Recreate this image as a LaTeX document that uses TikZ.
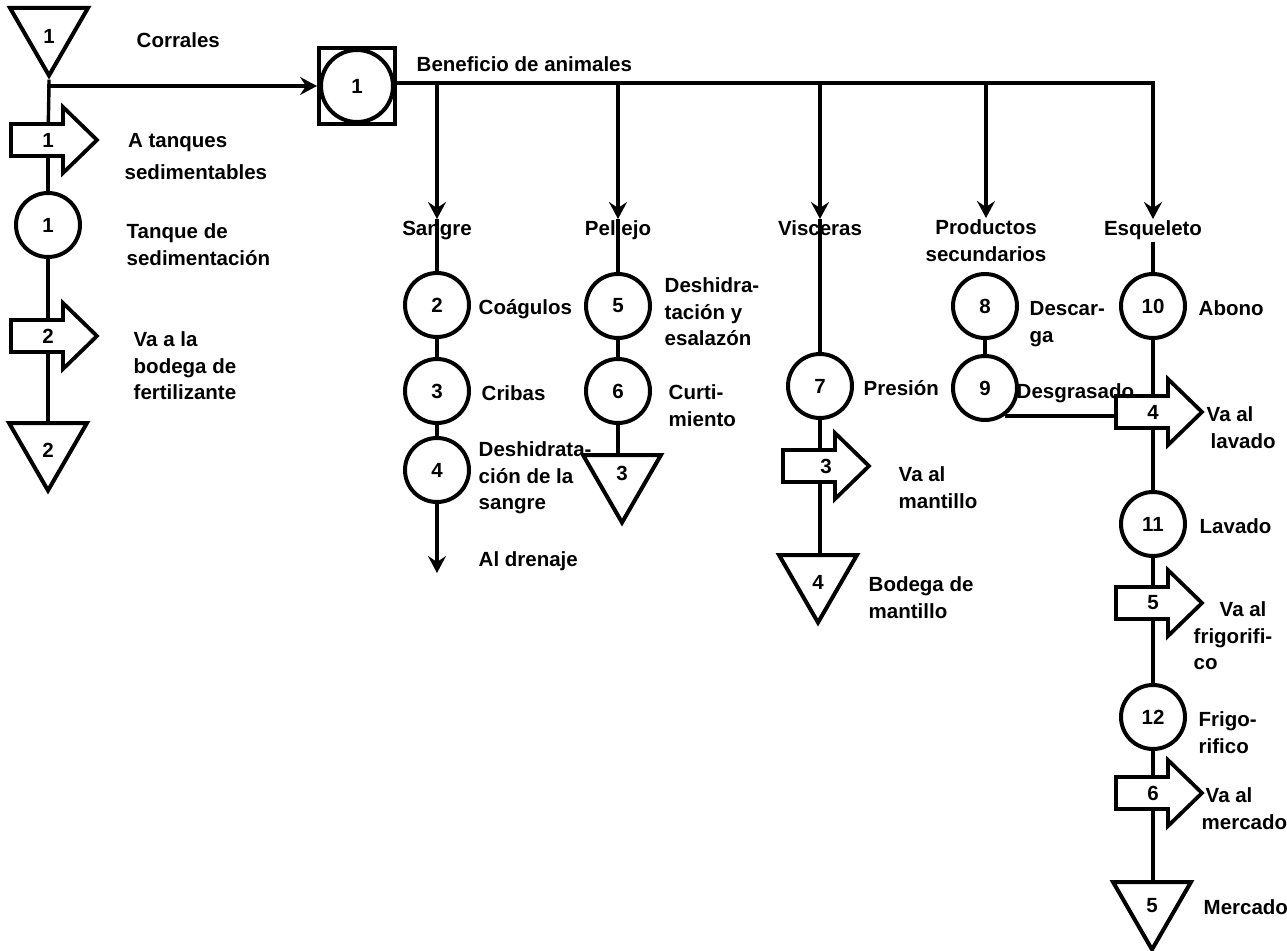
\documentclass[tikz,border=0pt]{standalone}
\usepackage{fontspec}
\setmainfont{Liberation Sans}
\usetikzlibrary{arrows.meta,shapes.geometric}
\newcommand\lblfont{\fontsize{20.5}{26.5}\selectfont\bfseries}
\newcommand\flowarr[3]{%
  \node[fnode] (#1) at #2 {#3};
  \coordinate (#1w) at ([xshift=-37pt]#1.center);
  \draw[flowbox] (#1.center) ++(-37,-16) -- ++(52,0) -- ++(0,-17) -- ++(34,33) -- ++(-34,33) -- ++(0,-17) -- ++(-52,0) -- cycle;
}
\newcommand\shiftedtxt[2]{\raisebox{#1}[0pt][0pt]{#2}}
\begin{document}
\begin{tikzpicture}[x=1pt,y=-1pt,line width=3.4pt,
  lab/.style={font=\lblfont, inner sep=0pt, align=left, anchor=north west},
  clab/.style={font=\lblfont, inner sep=0pt, align=center, anchor=north},
  op/.style={circle, draw, line width=4pt, minimum size=64pt, inner sep=0pt, font=\lblfont},
  store/.style={regular polygon, regular polygon sides=3, shape border rotate=180, draw, line width=4pt, minimum size=90pt, inner sep=0pt, font=\lblfont},
  fnode/.style={inner sep=0pt, minimum height=32pt, font=\lblfont},
  flowbox/.style={draw, line width=3.8pt, line join=miter},
  arr/.style={-{Stealth[length=17pt,width=18pt,inset=6pt]}}
]
\useasboundingbox (0,0) rectangle (1287,950);

% ---------- left column ----------
\node[store] (t1) at (49,30.5) {\shiftedtxt{-13pt}{1}};
\node[lab] (corr) at (135,31) {Corrales};
\flowarr{a1}{(48,140)}{1}
\node[lab] (la1) at (123,132) {\,A tanques\\[5pt]sedimentables};
\node[op] (c1) at (48,225) {1};
\node[lab] (lc1) at (125,222) {Tanque de\\sedimentación};
\flowarr{a2}{(48,336)}{2}
\node[lab] (la2) at (132,330) {Va a la\\bodega de\\fertilizante};
\node[store] (t2) at (48,445.5) {\shiftedtxt{-12pt}{2}};

% ---------- Beneficio ----------
\node[draw, line width=4pt, minimum size=76pt, inner sep=0pt] (b1) at (357,86) {};
\node[op, minimum size=72pt] (b1c) at (357,86) {1};
\coordinate (j0) at (t1.south |- b1.west);
\draw (t1.south) -- (j0) -- (a1);
\draw (a1) -- (c1);
\draw (c1) -- (a2);
\draw (a2) -- (a2 |- t2.north);
\draw[arr] ([xshift=-1.7pt]j0) -- (b1.west);
\node[lab] (lb1) at (415,55) {Beneficio de animales};

% ---------- branch labels ----------
\node[clab] (sangre) at (437,219) {Sangre};
\node[clab] (pell) at (618,219) {Pellejo};
\node[clab] (visc) at (820,219) {Visceras};
\node[clab] (prod) at (986,218) {Productos\\secundarios};
\node[clab] (esq) at (1153,219) {Esqueleto};

\coordinate (mainy) at (0,83);
\draw[arr] (b1c.east |- mainy) -- (esq.north |- mainy) -- (esq.north);
\draw[arr] (sangre.north |- mainy) -- (sangre.north);
\draw[arr] (pell.north |- mainy) -- (pell.north);
\draw[arr] (visc.north |- mainy) -- (visc.north);
\draw[arr] (prod.north |- mainy) -- (prod.north);

% ---------- Sangre ----------
\node[op] (c2) at (437,305) {2};
\node[lab] at (477,298) {Coágulos};
\node[op] (c3) at (437,391) {3};
\node[lab] at (480,384) {Cribas};
\node[op] (c4) at (437,470) {4};
\node[lab] at (477,440) {Deshidrata-\\ción de la\\sangre};
\coordinate (drain) at (437,573);
\node[lab] at (477,550) {Al drenaje};
\draw (sangre.north) -- (c2);
\draw (c2) -- (c3);
\draw (c3) -- (c4);
\draw[arr] (c4) -- (drain);

% ---------- Pellejo ----------
\node[op] (c5) at (618,306) {5};
\node[lab] at (663,276) {Deshidra-\\tación y\\esalazón};
\node[op] (c6) at (618,391) {6};
\node[lab] at (667,383) {Curti-\\miento};
\node[store] (t3) at (622,477.5) {\shiftedtxt{-2.5pt}{3}};
\draw (pell.north) -- (c5);
\draw (c5) -- (c6);
\draw (c6) -- (c6 |- t3.north);

% ---------- Visceras ----------
\node[op] (c7) at (820,386) {7};
\node[lab] at (862,379) {Presión};
\flowarr{a3}{(820,466)}{\hspace*{12pt}3}
\node[lab] at (897,465) {Va al\\mantillo};
\node[store] (t4) at (818,577.5) {\shiftedtxt{-12pt}{4}};
\node[lab] at (867,575) {Bodega de\\mantillo};
\draw (visc.north) -- (c7);
\draw (c7) -- (c7 |- a3.north);
\draw (c7 |- a3.south) -- (c7 |- t4.north);

% ---------- Productos secundarios ----------
\node[op] (c8) at (985,306) {8};
\node[lab] at (1028,300) {Descar-\\ga};
\node[op] (c9) at (985,388) {9};
\node[lab] at (1015,382) {Desgrasado};
\draw (c8) -- (c9);

% ---------- Esqueleto ----------
\node[op] (c10) at (1153,306) {10};
\node[lab] at (1197,299) {Abono};
\flowarr{a4}{(1153,412)}{4}
\node[lab] at (1205,405) {Va al\\\hspace*{4pt}lavado};
\node[op] (c11) at (1153,524) {11};
\node[lab] at (1198,517) {Lavado};
\flowarr{a5}{(1153,603)}{5}
\node[lab] at (1192,600) {\hspace*{26pt}Va al\\frigorifi-\\co};
\node[op] (c12) at (1153,717) {12};
\node[lab] at (1197,710) {Frigo-\\rifico};
\flowarr{a6}{(1153,793)}{6}
\node[lab] at (1200,786) {\hspace*{4pt}Va al\\mercado};
\node[store] (t5) at (1152,904.5) {\shiftedtxt{-7.5pt}{5}};
\node[lab] at (1202,898) {Mercado};

\draw (c9.305) -- (c9.305 -| a4w);
\draw (esq.south) -- (c10);
\draw (c10) -- (a4);
\draw (a4) -- (c11);
\draw (c11) -- (a5);
\draw (a5) -- (c12);
\draw (c12) -- (a6);
\draw (a6) -- (a6 |- t5.north);
\end{tikzpicture}
\end{document}
